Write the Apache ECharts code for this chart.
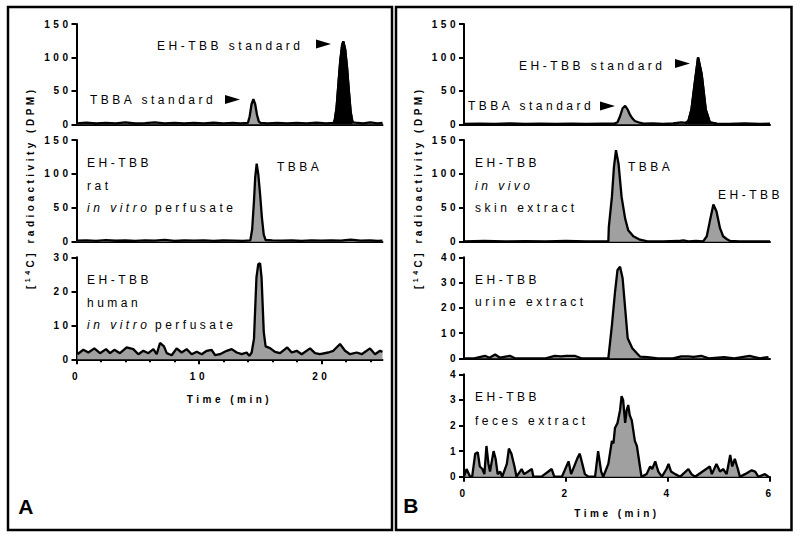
<!DOCTYPE html>
<html><head><meta charset="utf-8">
<script src="https://cdn.jsdelivr.net/npm/echarts@6/dist/echarts.min.js"></script>
<style>
html,body{margin:0;padding:0;background:#fff}
#c{width:800px;height:538px}
#c text{letter-spacing:3.5px}
</style>
</head><body><div id="c"></div>
<script>
// ---------- DATA ----------
// Panel A (time 0-25 min)
const tA1 = [0,0.8,1.6,2.4,3.2,4.0,4.8,5.6,6.4,7.2,8.0,8.8,9.6,10.4,11.2,12.0,12.8,13.4,14.0,14.15,14.3,14.45,14.6,14.75,14.9,15.05,15.6,16.4,17.2,18.0,18.8,19.6,20.4,21.0,21.1,21.25,21.4,21.55,21.7,21.8,21.95,22.1,22.25,22.4,22.55,22.8,23.4,24.0,24.6,25];
const vA1 = [1.5,2.5,1.2,2.0,1.5,2.8,1.2,1.8,3.0,1.5,2.0,1.2,2.2,1.5,2.5,1.3,2.0,1.5,2,12,30,37.5,30,14,4,2,1.5,2.2,1.3,2.0,1.5,2.5,1.5,2,6,25,60,95,118,124,112,85,50,18,3,2.5,1.5,2.8,1.5,2.0];
const ehStdRangeA = [21.0, 22.55];

const tA2 = [0,0.8,1.6,2.4,3.2,4.0,4.8,5.6,6.4,7.2,8.0,8.8,9.6,10.4,11.2,12.0,12.8,13.6,14.2,14.35,14.5,14.6,14.72,14.85,15.0,15.15,15.3,15.45,16.0,16.8,17.6,18.4,19.2,20.0,20.8,21.6,22.4,23.2,24.0,24.6,25];
const vA2 = [1.5,2.0,1.2,2.2,1.4,1.8,1.2,2.0,1.5,2.8,1.3,1.8,1.5,2.0,1.3,1.8,1.5,1.2,2,18,60,95,115,100,70,35,10,2.5,2.0,1.5,1.8,1.3,2.0,1.5,1.8,1.5,3.2,1.5,1.8,1.2,1.5];

const tA3 = [0.07,0.56,0.97,1.46,1.92,2.41,2.74,3.09,3.55,4.1,4.64,5.05,5.46,5.87,6.28,6.55,6.82,7.15,7.37,7.78,8.18,8.59,9.0,9.41,9.82,10.23,10.64,11.04,11.32,11.72,12.27,12.68,13.09,13.5,13.9,14.12,14.31,14.5,14.7,14.85,15.0,15.12,15.3,15.45,15.81,16.22,16.63,17.22,17.58,17.99,18.4,19.08,19.49,19.89,20.57,20.98,21.53,21.94,22.35,22.89,23.3,23.98,24.39,24.8,25];
const vA3 = [1.5,2.8,2.0,3.2,1.8,3.0,1.8,2.8,1.8,3.5,3.0,1.5,2.5,1.8,3.0,1.5,4.8,3.8,1.8,1.2,3.2,2.0,3.0,1.5,2.2,1.5,2.5,2.8,1.2,1.5,2.5,3.0,2.0,1.5,2.0,1.0,2.0,6,24,28,28.2,24,8,3.8,3.3,2.2,1.8,3.5,2.0,2.5,1.5,3.2,1.8,1.5,2.0,2.5,4.5,2.5,1.5,2.0,1.5,3.2,1.5,2.5,2.2];

// Panel B (time 0-6 min)
const tB1 = [0,0.3,0.6,0.9,1.2,1.5,1.8,2.1,2.4,2.7,2.95,3.01,3.06,3.11,3.16,3.21,3.25,3.3,3.35,3.42,3.52,3.7,3.9,4.1,4.26,4.35,4.4,4.46,4.53,4.59,4.66,4.74,4.82,4.95,5.2,5.5,5.8,6];
const vB1 = [0.5,1.0,0.5,1.2,0.5,0.8,0.5,1.0,0.6,0.8,1.0,3,12,24,27.5,22,15,9,5,3,1,1.5,0.5,1.2,3,2.0,5,22,65,100,75,22,3,1.0,0.5,1.2,0.5,0.8];
const ehStdRangeB = [4.35, 4.95];

const tB2 = [0,0.4,0.8,1.2,1.6,2.0,2.4,2.7,2.83,2.84,2.9,2.94,2.98,3.03,3.09,3.16,3.22,3.32,3.45,3.6,3.9,4.2,4.3,4.4,4.55,4.69,4.76,4.82,4.89,4.95,5.02,5.08,5.15,5.22,5.4,5.7,6];
const vB2 = [0.5,1.0,0.5,0.8,0.5,1.0,0.5,0.5,0.5,22,66,110,135,115,66,34,17,8,3,0.5,0.5,1.0,2,0.5,1.0,0.5,8,30,55,45,20,8,4,1,0.5,0.5,0.5];

const tB3 = [0,0.2,0.41,0.5,0.61,0.7,0.9,1.0,1.3,1.6,1.78,1.9,2.0,2.17,2.3,2.6,2.83,2.9,2.96,3.01,3.06,3.11,3.16,3.21,3.3,3.39,3.45,3.6,3.8,4.1,4.26,4.4,4.5,4.65,4.8,5.1,5.3,5.6,5.8,5.97];
const vB3 = [0,0,1,0.2,1.5,0.3,1,0,0,0,1,0.8,1,1,0,0,0,13,26,35,36.3,31.7,19.8,7.9,4,2,0.7,0.5,0,0,0.8,0.8,0.6,1.0,0,0.5,0,1,0,0.5];

const tB4 = [0,0.05,0.12,0.16,0.22,0.27,0.31,0.36,0.40,0.44,0.48,0.51,0.58,0.62,0.66,0.71,0.75,0.84,0.88,0.93,0.99,1.03,1.13,1.18,1.33,1.36,1.52,1.72,1.77,1.92,2.05,2.10,2.18,2.23,2.27,2.32,2.37,2.44,2.57,2.63,2.69,2.73,2.83,2.90,2.93,2.96,3.01,3.06,3.09,3.12,3.16,3.19,3.22,3.25,3.29,3.32,3.35,3.39,3.42,3.45,3.48,3.58,3.65,3.69,3.75,3.78,3.81,3.88,3.97,4.01,4.06,4.14,4.24,4.40,4.46,4.53,4.82,4.86,4.95,5.02,5.08,5.15,5.22,5.26,5.31,5.37,5.41,5.51,5.64,5.71,5.77,5.90,5.97];
const vB4 = [0,0.3,0,0,0.9,0.95,0.4,0.3,0.1,1.2,0.5,0.2,1.0,0.7,0.1,0.2,0,0.5,1.1,0.9,0.4,0,0.3,0.1,0.3,0,0,0.3,0,0,0.6,0.1,0.5,0.75,0.9,0.5,0.1,0,0,1.0,0.2,0,0.5,1.4,1.3,1.9,2.1,2.6,3.15,3.0,2.1,2.6,2.8,2.4,2.2,1.8,1.4,1.2,0.8,0.4,0,0.1,0.4,0.3,0.6,0.4,0.2,0,0.3,0.5,0.2,0.1,0,0.3,0.1,0,0.4,0.1,0.5,0.2,0.3,0.1,0.85,0.4,0.7,0.3,0,0.1,0.25,0.2,0,0.1,0];

// Axis ranges / ticks
const yMaxes = [150,150,30,150,150,40,4];
const yIntervals = [50,50,10,50,50,10,1];
const xMaxA = 25, xMaxB = 6;
const xMajorA = [0,10,20];
const xMinorA = [2,4,6,8,12,14,16,18,22,24];
const xTitle = 'Time (min)';

// ---------- CHART ----------
const FF = '"Liberation Sans", Arial, sans-serif';
const GRAY = '#a0a0a0';
const LW = 2.3;
const pts = (t, v) => t.map((x, i) => [x, v[i]]);
const subset = (t, v, r) => pts(t, v).filter(p => p[0] >= r[0] && p[0] <= r[1]);

const grids = [
  {left:76.5, top:24, width:306, height:100.3},
  {left:76.5, top:140, width:306, height:101.7},
  {left:76.5, top:257.3, width:306, height:102},
  {left:464, top:24, width:306, height:100.3},
  {left:464, top:140, width:306, height:101.7},
  {left:464, top:257.3, width:306, height:101},
  {left:464, top:374.3, width:306, height:102.4}
].map(g => Object.assign({outerBoundsMode:'none', containLabel:false}, g));

const lbl = {color:'#000', fontSize:10, fontWeight:'bold', fontFamily:FF};
const axLine = {show:true, onZero:false, lineStyle:{color:'#000', width:2}};

const yAxis = yMaxes.map((m, i) => ({
  type:'value', gridIndex:i, min:0, max:m, interval:yIntervals[i],
  axisLine:axLine, axisTick:{show:true, length:5, lineStyle:{color:'#000', width:2}},
  axisLabel:Object.assign({margin:5}, lbl), splitLine:{show:false}
}));

const xAxis = [];
for (let i = 0; i < 7; i++) {
  const isA = i < 3;
  const ax = {type:'value', gridIndex:i, min:0, max:isA ? xMaxA : xMaxB,
    axisLine:axLine, axisTick:{show:false}, axisLabel:{show:false}, splitLine:{show:false}};
  if (i === 2) {
    ax.axisTick = {show:true, length:5, customValues:xMajorA, lineStyle:{color:'#000', width:2}};
    ax.axisLabel = Object.assign({show:true, margin:12, customValues:xMajorA}, lbl);
  }
  if (i === 6) {
    ax.interval = 2;
    ax.axisTick = {show:true, length:5, lineStyle:{color:'#000', width:2}};
    ax.axisLabel = Object.assign({show:true, margin:12}, lbl);
  }
  if (i === 2 || i === 6) {
    ax.name = xTitle; ax.nameLocation = 'middle'; ax.nameGap = i === 2 ? 35 : 32;
    ax.nameTextStyle = {color:'#000', fontSize:10, fontWeight:'bold', fontFamily:FF};
  }
  xAxis.push(ax);
}
// minor ticks for panel A time axis
xAxis.push({type:'value', gridIndex:2, min:0, max:xMaxA, position:'bottom',
  axisLine:{show:false}, axisTick:{show:true, length:3, customValues:xMinorA, lineStyle:{color:'#000', width:2}},
  axisLabel:{show:false}, splitLine:{show:false}});

function line(xi, yi, data, fill, z) {
  return {type:'line', xAxisIndex:xi, yAxisIndex:yi, data:data, showSymbol:false, symbol:'none',
    lineStyle:{color:'#000', width:LW}, areaStyle:{color:fill, opacity:1}, z:z || 2,
    animation:false, silent:true, clip:true};
}
const series = [
  line(0, 0, pts(tA1, vA1), GRAY),
  line(0, 0, subset(tA1, vA1, ehStdRangeA), '#000', 3),
  line(1, 1, pts(tA2, vA2), GRAY),
  line(2, 2, pts(tA3, vA3), GRAY),
  line(3, 3, pts(tB1, vB1), GRAY),
  line(3, 3, subset(tB1, vB1, ehStdRangeB), '#000', 3),
  line(4, 4, pts(tB2, vB2), GRAY),
  line(5, 5, pts(tB3, vB3), GRAY),
  line(6, 6, pts(tB4, vB4), GRAY)
];

// ---------- ANNOTATIONS ----------
const annFont = '12px ' + FF, annItal = 'italic 12px ' + FF;
function txt(x, y, s, font, align) {
  return {type:'text', x:x, y:y, silent:true, z:10,
    style:{text:s, font:font || annFont, fill:'#000', align:align || 'left', textAlign:align || 'left',
      verticalAlign:'middle', textVerticalAlign:'middle'}};
}
function arrow(x, y) {
  return {type:'polygon', silent:true, z:10, shape:{points:[[x, y - 4.5], [x + 15, y], [x, y + 4.5]]}, style:{fill:'#000'}};
}
function yTitle(cx, cy) {
  const f = 'bold 10px ' + FF;
  return {type:'group', x:cx, y:cy, rotation:Math.PI / 2, silent:true, children:[
    {type:'text', x:-98, y:0, style:{text:'[', font:f, fill:'#000', align:'left', textAlign:'left', verticalAlign:'middle', textVerticalAlign:'middle'}},
    {type:'text', x:-91.2, y:-3, style:{text:'14', font:'bold 7px ' + FF, fill:'#000', align:'left', textAlign:'left', verticalAlign:'middle', textVerticalAlign:'middle'}},
    {type:'text', x:-76.4, y:0, style:{text:'C] radioactivity (DPM)', font:f, fill:'#000', align:'left', textAlign:'left', verticalAlign:'middle', textVerticalAlign:'middle'}}
  ]};
}
const graphic = [
  {type:'rect', silent:true, shape:{x:8, y:7, width:384, height:523}, style:{fill:'none', stroke:'#000', lineWidth:2.5}},
  {type:'rect', silent:true, shape:{x:396, y:7, width:395.5, height:523}, style:{fill:'none', stroke:'#000', lineWidth:2.5}},
  yTitle(30, 191), yTitle(418, 191),
  txt(27.5, 506, 'A', 'bold 21px ' + FF, 'center'),
  txt(412.5, 505, 'B', 'bold 21px ' + FF, 'center'),
  // Panel A
  txt(157, 45.5, 'EH-TBB standard'), arrow(316, 44),
  txt(90, 100, 'TBBA standard'), arrow(225, 99.5),
  txt(87, 163, 'EH-TBB'), txt(87, 185.5, 'rat'), txt(87, 208, 'in vitro', annItal), txt(155, 208, 'perfusate'),
  txt(277, 167, 'TBBA'),
  txt(87, 280, 'EH-TBB'), txt(87, 302.5, 'human'), txt(87, 325, 'in vitro', annItal), txt(155, 325, 'perfusate'),
  // Panel B
  txt(519, 65.5, 'EH-TBB standard'), arrow(675, 63.5),
  txt(468, 106, 'TBBA standard'), arrow(600, 106),
  txt(475, 163, 'EH-TBB'), txt(475, 186, 'in vivo', annItal), txt(475, 208, 'skin extract'),
  txt(628, 167, 'TBBA'), txt(718, 195, 'EH-TBB'),
  txt(475, 280, 'EH-TBB'), txt(475, 302, 'urine extract'),
  txt(475, 397, 'EH-TBB'), txt(475, 421, 'feces extract')
];

const chart = echarts.init(document.getElementById('c'), null, {renderer:'svg'});
chart.setOption({
  animation:false, backgroundColor:'#fff',
  grid:grids, xAxis:xAxis, yAxis:yAxis, series:series, graphic:graphic
});
</script></body></html>
